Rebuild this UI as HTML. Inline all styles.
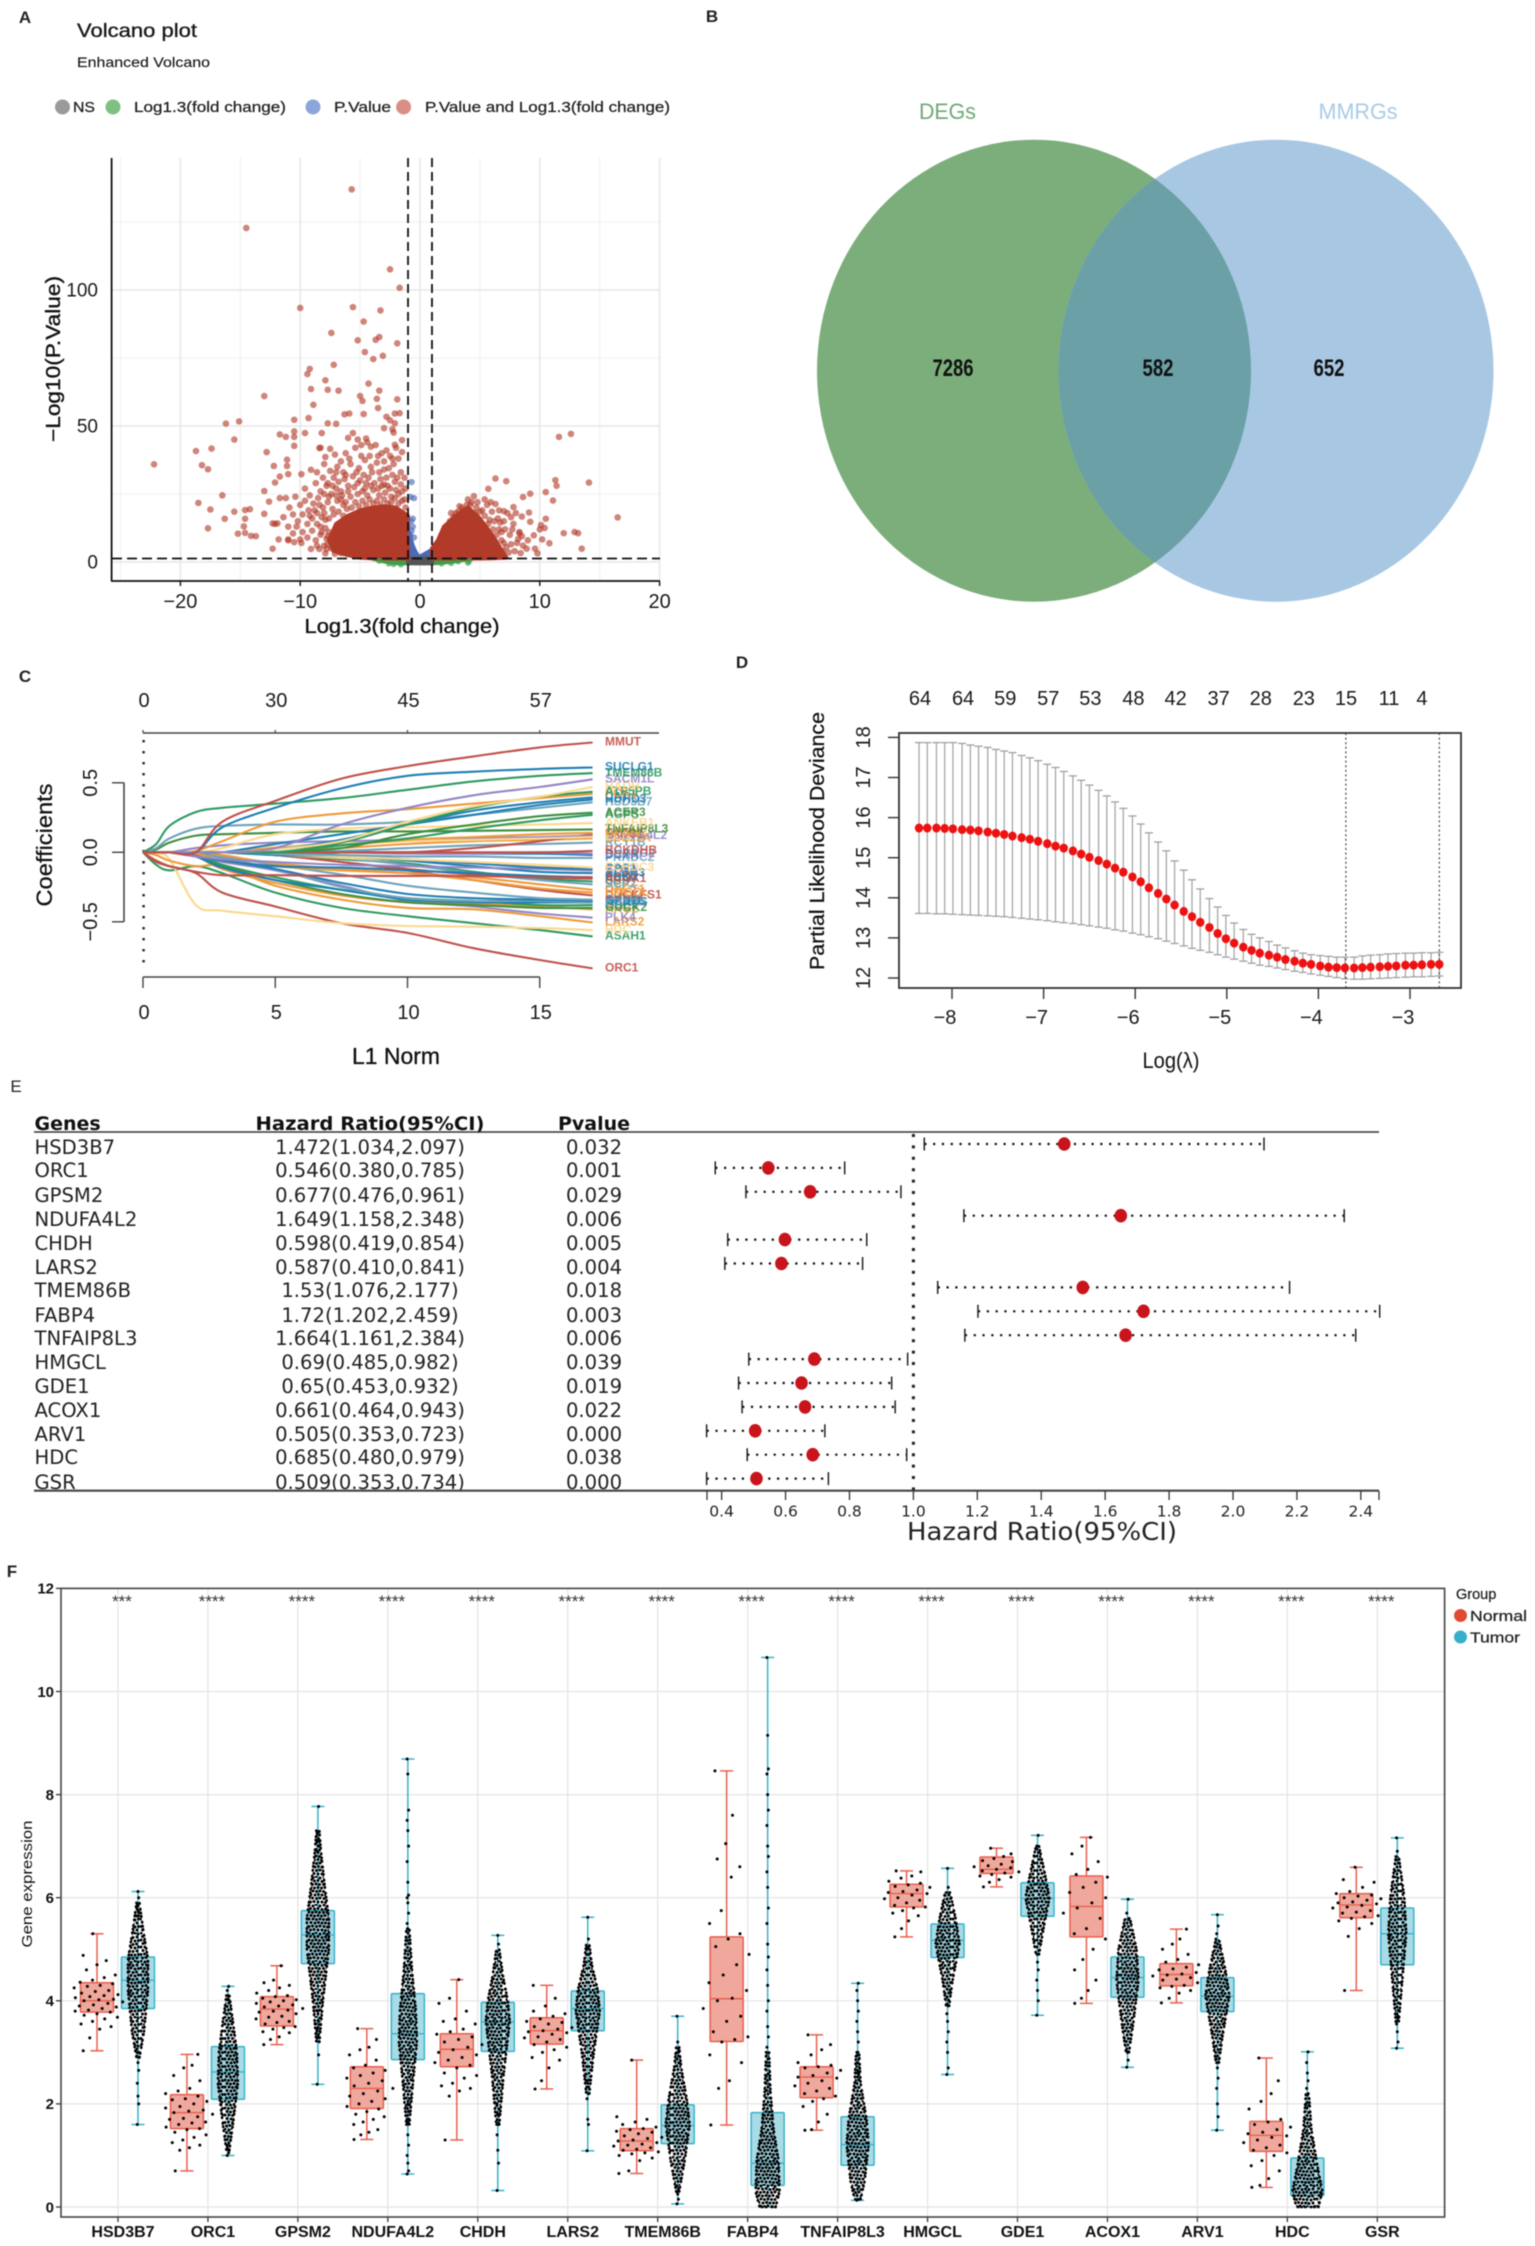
<!DOCTYPE html>
<html lang="en">
<head>
<meta charset="utf-8">
<title>Figure: volcano, Venn, LASSO, forest and box plots</title>
<style>
html,body{margin:0;padding:0;background:#fff;width:1535px;height:2246px;overflow:hidden}
svg{display:block;font-family:"Liberation Sans",sans-serif;filter:blur(.4px)}
.dj{font-family:"DejaVu Sans",sans-serif;font-size:19.6px;fill:#222}
.djb{font-family:"DejaVu Sans",sans-serif;font-size:19px;font-weight:bold;fill:#111}
.mid{text-anchor:middle}
</style>
</head>
<body>
<svg id="fig" xmlns="http://www.w3.org/2000/svg" width="1535" height="2246" viewBox="0 0 1535 2246">
<defs>
<pattern id="swarmDots" patternUnits="userSpaceOnUse" width="28" height="28">
<path d="M1 1h0M5 2h0M8 .5h0M12 2h0M16 1h0M19 2.5h0M23 1h0M26 2h0M2.5 4.5h0M6.5 5h0M10 4.5h0M14 5.5h0M17.5 5h0M21 5.5h0M25 5h0M1 8h0M4.5 8.5h0M8 8h0M11.5 8.5h0M15.5 8.5h0M19 8h0M23 9h0M26.5 8.5h0M3 11.5h0M6.5 12h0M10 11.5h0M13.5 12h0M17 11.5h0M21 12.5h0M24.5 12h0M1 15h0M5 15h0M8.5 15.5h0M12 15h0M15.5 15.5h0M19 15.5h0M23 16h0M26.5 15h0M3 18.5h0M7 19h0M10.5 18.5h0M14 19h0M17.5 19h0M21 19.5h0M25 19h0M1 22.5h0M4.5 22h0M8.5 22.5h0M12 22h0M16 22.5h0M19.5 23h0M23 23h0M26.5 22.5h0M2.5 26h0M6 25.5h0M10 26h0M14 26h0M17.5 26.5h0M21 26.5h0M25 26h0" fill="none" stroke="#000" stroke-width="3" stroke-linecap="round"/>
</pattern>
<clipPath id="leftVenn"><ellipse cx="1034" cy="370.7" rx="217" ry="231"/></clipPath>
</defs>
<rect width="1535" height="2246" fill="#fff"/>

<!-- Panel letters -->
<text x="25" y="23" font-size="17" font-weight="bold" text-anchor="middle" fill="#222">A</text>
<text x="712" y="22" font-size="17" font-weight="bold" text-anchor="middle" fill="#222">B</text>
<text x="25" y="682" font-size="17" font-weight="bold" text-anchor="middle" fill="#222">C</text>
<text x="742" y="668" font-size="17" font-weight="bold" text-anchor="middle" fill="#222">D</text>
<text x="16" y="1092" font-size="17" text-anchor="middle" fill="#222">E</text>
<text x="12" y="1577" font-size="17" font-weight="bold" text-anchor="middle" fill="#222">F</text>

<!-- Panel A text -->
<text x="77" y="37" font-size="19" textLength="120" lengthAdjust="spacingAndGlyphs" fill="#1a1a1a" stroke="#1a1a1a" stroke-width=".35">Volcano plot</text>
<text x="77" y="67" font-size="14" textLength="133" lengthAdjust="spacingAndGlyphs" fill="#1a1a1a" stroke="#1a1a1a" stroke-width=".15">Enhanced Volcano</text>
<g>
<circle cx="62.5" cy="107" r="7.5" fill="#888" opacity=".85"/>
<text x="73" y="112" font-size="14.5" textLength="22" lengthAdjust="spacingAndGlyphs" fill="#222" stroke="#222" stroke-width=".25">NS</text>
<circle cx="113" cy="107" r="7.5" fill="#7fbf7f"/>
<text x="134" y="112" font-size="14.5" textLength="152" lengthAdjust="spacingAndGlyphs" fill="#222" stroke="#222" stroke-width=".25">Log1.3(fold change)</text>
<circle cx="313" cy="107" r="7.5" fill="#8ca6da"/>
<text x="334" y="112" font-size="14.5" textLength="57" lengthAdjust="spacingAndGlyphs" fill="#222" stroke="#222" stroke-width=".25">P.Value</text>
<circle cx="403.6" cy="107" r="7.5" fill="#d98f85"/>
<text x="425" y="112" font-size="14.5" textLength="245" lengthAdjust="spacingAndGlyphs" fill="#222" stroke="#222" stroke-width=".25">P.Value and Log1.3(fold change)</text>
</g>
<text x="402" y="633" font-size="20" class="mid" textLength="195" lengthAdjust="spacingAndGlyphs" fill="#111" stroke="#111" stroke-width=".35">Log1.3(fold change)</text>
<text x="53" y="366" font-size="20" class="mid" textLength="166" lengthAdjust="spacingAndGlyphs" transform="rotate(-90 53 359)" fill="#111" stroke="#111" stroke-width=".35">−Log10(P.Value)</text>

<!-- Panel B: Venn -->
<g>
<ellipse cx="1034" cy="370.7" rx="217" ry="231" fill="#7bae7b"/>
<ellipse cx="1276" cy="370.7" rx="217.5" ry="231" fill="#a8c7e3"/>
<ellipse cx="1276" cy="370.7" rx="217.5" ry="231" fill="#6ba0a6" clip-path="url(#leftVenn)"/>
<text x="947.5" y="119" font-size="22" class="mid" textLength="57" lengthAdjust="spacingAndGlyphs" fill="#6fa874">DEGs</text>
<text x="1358" y="119" font-size="22" class="mid" textLength="79" lengthAdjust="spacingAndGlyphs" fill="#a9cbe6">MMRGs</text>
<text x="953" y="376" font-size="24" font-weight="bold" class="mid" textLength="41" lengthAdjust="spacingAndGlyphs" fill="#111">7286</text>
<text x="1158" y="376" font-size="24" font-weight="bold" class="mid" textLength="31" lengthAdjust="spacingAndGlyphs" fill="#111">582</text>
<text x="1329" y="376" font-size="24" font-weight="bold" class="mid" textLength="31" lengthAdjust="spacingAndGlyphs" fill="#111">652</text>
</g>

<!-- Panel C / D titles -->
<text x="396" y="1064" font-size="23" class="mid" textLength="88" lengthAdjust="spacingAndGlyphs" fill="#111" stroke="#111" stroke-width=".3">L1 Norm</text>
<text x="44" y="853" font-size="22" class="mid" textLength="123" lengthAdjust="spacingAndGlyphs" transform="rotate(-90 44 845)" fill="#111" stroke="#111" stroke-width=".25">Coefficients</text>
<text x="1171" y="1068" font-size="22" class="mid" textLength="57" lengthAdjust="spacingAndGlyphs" fill="#111">Log(λ)</text>
<text x="817" y="848" font-size="20" class="mid" textLength="258" lengthAdjust="spacingAndGlyphs" transform="rotate(-90 817 841)" fill="#111" stroke="#111" stroke-width=".25">Partial Likelihood Deviance</text>

<!-- Panel E table -->
<g>
<text class="djb" x="34.5" y="1130">Genes</text>
<text class="djb mid" x="370" y="1130" textLength="229" lengthAdjust="spacingAndGlyphs">Hazard Ratio(95%CI)</text>
<text class="djb mid" x="594" y="1130">Pvalue</text>

<text class="dj" x="34.5" y="1154">HSD3B7</text><text class="dj mid" x="370" y="1154">1.472(1.034,2.097)</text><text class="dj mid" x="594" y="1154">0.032</text>
<text class="dj" x="34.5" y="1177">ORC1</text><text class="dj mid" x="370" y="1177">0.546(0.380,0.785)</text><text class="dj mid" x="594" y="1177">0.001</text>
<text class="dj" x="34.5" y="1202">GPSM2</text><text class="dj mid" x="370" y="1202">0.677(0.476,0.961)</text><text class="dj mid" x="594" y="1202">0.029</text>
<text class="dj" x="34.5" y="1226">NDUFA4L2</text><text class="dj mid" x="370" y="1226">1.649(1.158,2.348)</text><text class="dj mid" x="594" y="1226">0.006</text>
<text class="dj" x="34.5" y="1250">CHDH</text><text class="dj mid" x="370" y="1250">0.598(0.419,0.854)</text><text class="dj mid" x="594" y="1250">0.005</text>
<text class="dj" x="34.5" y="1274">LARS2</text><text class="dj mid" x="370" y="1274">0.587(0.410,0.841)</text><text class="dj mid" x="594" y="1274">0.004</text>
<text class="dj" x="34.5" y="1297">TMEM86B</text><text class="dj mid" x="370" y="1297">1.53(1.076,2.177)</text><text class="dj mid" x="594" y="1297">0.018</text>
<text class="dj" x="34.5" y="1322">FABP4</text><text class="dj mid" x="370" y="1322">1.72(1.202,2.459)</text><text class="dj mid" x="594" y="1322">0.003</text>
<text class="dj" x="34.5" y="1345">TNFAIP8L3</text><text class="dj mid" x="370" y="1345">1.664(1.161,2.384)</text><text class="dj mid" x="594" y="1345">0.006</text>
<text class="dj" x="34.5" y="1369">HMGCL</text><text class="dj mid" x="370" y="1369">0.69(0.485,0.982)</text><text class="dj mid" x="594" y="1369">0.039</text>
<text class="dj" x="34.5" y="1393">GDE1</text><text class="dj mid" x="370" y="1393">0.65(0.453,0.932)</text><text class="dj mid" x="594" y="1393">0.019</text>
<text class="dj" x="34.5" y="1417">ACOX1</text><text class="dj mid" x="370" y="1417">0.661(0.464,0.943)</text><text class="dj mid" x="594" y="1417">0.022</text>
<text class="dj" x="34.5" y="1441">ARV1</text><text class="dj mid" x="370" y="1441">0.505(0.353,0.723)</text><text class="dj mid" x="594" y="1441">0.000</text>
<text class="dj" x="34.5" y="1464">HDC</text><text class="dj mid" x="370" y="1464">0.685(0.480,0.979)</text><text class="dj mid" x="594" y="1464">0.038</text>
<text class="dj" x="34.5" y="1489">GSR</text><text class="dj mid" x="370" y="1489">0.509(0.353,0.734)</text><text class="dj mid" x="594" y="1489">0.000</text>
<line x1="34" y1="1132" x2="1379" y2="1132" stroke="#333" stroke-width="1.6"/>
<line x1="34" y1="1490.7" x2="1379" y2="1490.7" stroke="#444" stroke-width="2.2"/>
</g>
<text x="1042" y="1540" font-family="DejaVu Sans" font-size="25" class="mid" textLength="270" lengthAdjust="spacingAndGlyphs" fill="#222">Hazard Ratio(95%CI)</text>

<!-- Panel F text -->
<text x="27" y="1889" font-size="15" class="mid" textLength="127" lengthAdjust="spacingAndGlyphs" transform="rotate(-90 27 1884)" fill="#111">Gene expression</text>
<g>
<text x="1456" y="1599" font-size="14.5" fill="#222" stroke="#222" stroke-width=".25">Group</text>
<circle cx="1460.5" cy="1615.5" r="6.5" fill="#e04a33"/>
<text x="1470" y="1621" font-size="15" textLength="57" lengthAdjust="spacingAndGlyphs" fill="#222" stroke="#222" stroke-width=".25">Normal</text>
<circle cx="1460.5" cy="1637" r="6.5" fill="#37afca"/>
<text x="1470" y="1642.5" font-size="15" textLength="50" lengthAdjust="spacingAndGlyphs" fill="#222" stroke="#222" stroke-width=".25">Tumor</text>
</g>

<g id="panelA"></g>
<g id="panelC"></g>
<g id="panelD"></g>
<g id="panelE"></g>
<g id="panelF"></g>
</svg>

<script>
/* ---------- Panel A data ---------- */
const volcanoXTicks = [-20,-10,0,10,20];
const volcanoYTicks = [0,50,100];
const volcanoXMinor = [-25,-15,-5,5,15];
const volcanoYMinor = [25,75,125];
const redPoints = [[-5.7,137],[-14.5,122.8],[-2.5,107.6],[-1.7,100.8],[-10,93.4],[-5.6,93.7],[-3.3,92.5],[-4.7,88.4],[-7.4,84.2],[-5.2,81.5],[-3.7,81.7],[-3.4,82.7],[-1.9,80.4],[-4.6,77.2],[-3.1,75.8],[-3.9,74.6],[-7.2,72.5],[-9.2,71],[-9.4,69.1],[-7.9,66.8],[-4.3,65.6],[-9.1,63.6],[-7.7,63.3],[-6.8,63],[-3.4,63],[-13,61],[-5,61],[-3.6,60],[-1.9,59.8],[-4.8,59.2],[-8.9,57.8],[-3.5,56.6],[-6.3,54.3],[-5.9,54.6],[-4.7,54.4],[-2.8,53.4],[-2.1,54.6],[-1.7,54.7],[-10.5,52.3],[-9.3,52.9],[-2.5,52.1],[-2.1,51],[-15.1,51.7],[-16.2,50.9],[-7.7,51],[-7,50.8],[-3,49.2],[-2.3,48.8],[-2.2,47.6],[-11.7,46.9],[-11.2,46],[-10.5,48],[-10.5,46],[-9.6,47.4],[-8.2,47.4],[-5.6,47.4],[-15.5,45],[-6,45.6],[-5.2,45],[-4.5,45.4],[-1.5,44.8],[-10.5,42.7],[-17.4,41.7],[-18.7,40.8],[-12.8,40.4],[-8.4,41.9],[-7.5,41.6],[-4.1,42.4],[-2.1,43.1],[-1.5,40.4],[-22.2,35.9],[-18.2,35.6],[-17.7,34.1],[-11.1,37.6],[-12.2,35.3],[-11.1,35.3],[-9.1,33.9],[-11,32.3],[-9.9,32.3],[-11.7,31.4],[-12.1,29.2],[-13,26.1],[-16.5,24.5],[-18.5,21.7],[-17.5,19.3],[-15.5,18.5],[-14.6,19.1],[-14.2,19.4],[-16.3,15.9],[-14.6,15.9],[-17.7,12.4],[-14.7,13.1],[-15.2,10.4],[-14.6,10.7],[-14.1,9.6],[-13.7,9.5],[-13,17.7],[-12.6,22.2],[-12.3,14.2],[-11.9,14.2],[-11.7,23.5],[-11.8,8.3],[-12.3,4.9],[-11,8.3],[-10,8.3],
[-8.3,42],[-7.9,38.6],[-7.1,39.5],[-6.6,37],[-6.2,40],[-5.4,42],[-4.9,43],[-4.4,44],[-3.7,43],[-3.2,40],[-2.8,41],[-2.5,39],[-2,42],[-1.8,38],[-6.9,35],[-6.4,33],[-5.8,36],[-5.1,34.5],[-4.6,37.5],[-4.1,35],[-3.6,36.5],[-3,34],[-2.6,34.5],[-2.2,36],[-1.6,33],[-1.3,31],[-8.6,33],[-8,36],[-7.5,33.5],[-7.2,31],[-6.8,29.5],[-6.3,30.5],[-5.6,31.5],[-5,30],[-4.3,31],[-3.8,29],[-3.3,30.5],[-2.7,28],[-2.1,29.5],[-1.6,28.5],[-1.2,27],[-9.6,27],[-9.2,24.5],[-8.7,29],[-8.3,26],[-7.8,28],[-7.4,25],[-7,27],[-6.5,24.5],[-6,26],[-5.5,27.5],[-4.8,26],[-4.4,24.5],[-3.9,26.5],[-3.4,24.5],[-2.9,25.5],[-2.4,24],[-1.8,25],[-1.3,23],[-10.4,24],[-10,21],[-9.6,22.5],[-9.3,19],[-8.9,21.5],[-8.5,23.5],[-8.1,20],[-7.7,22],[-7.3,19.5],[-6.9,22.5],[-6.4,21],[-11.2,23.5],[-10.9,20],[-10.6,17.5],[-10.2,15],[-9.8,17.5],[-9.4,14],[-9,16],[-8.6,18],[-8.3,13],[-7.9,15.5],[-7.6,11],[-12.1,14],[-11.4,16.5],[-11,13],[-10.6,10.5],[-10.3,13],[-9.8,11],[-9.4,9],[-9,11.5],[-8.7,8],[-8.3,10],[-8,6],[-7.8,8.5],[-11,8],[-10.5,7.3],[-9.9,7],[-9.1,4.8],[-8.4,4.8],[-7.9,3.2],
[-7.6,16],[-7.2,17.5],[-6.8,18.5],[-6.4,17],[-6.1,19.5],[-5.7,20],[-5.4,22],[-5.1,20.5],[-4.8,22.5],[-4.5,21],[-4.2,23],[-3.9,21.5],[-3.6,22.5],[-3.3,21],[-3,23],[-2.7,21.5],[-2.4,22],[-2.1,23.5],[-1.8,21.5],[-1.5,22.5],[-1.2,20],[-6.6,23],[-6.2,22],[-5.8,24],[-5.2,25],[-4.6,27],[-4.1,28],[-3.5,27],[-3,28.5],[-2.5,27],[-2,26.5],[-1.5,26],[-7,24.5],[-7.6,24],[-8,25],[-8.4,21],[-8.8,19],[-9.2,17],[-8.2,16.5],[-8,18],[-8.6,14],[-8.2,11],[-7.9,12.5],[-7.7,9.5],[-8.6,6],[-7.7,6.5],[-7.4,5],[-7.8,4.8],[-7.1,3],[-6.6,3.3],[-6.9,10],[-6.2,32],[-5.3,33],[-4.7,32],[-4,33],[-3.4,33],[-2.8,31],[-2.3,32],[-1.9,31],[-7.7,29],[-7,33],[-6,28],[-5.2,29],[-4.5,29],[-3.2,28],[-6.6,26],[-7.3,28],[-8.1,31],[-5.9,38],[-4.9,39],[-4.2,39],[-3.5,39],[-3,37],[-2.3,38],
[11.6,46],[12.6,47.1],[14.1,29.2],[16.5,16.4],[11.3,30.1],[11.4,28],[10.5,25.7],[11.1,22.6],[9.2,25.1],[8.6,23.9],[7.2,29.7],[6.3,30.7],[5.7,26.9],[4.5,24.2],[10.5,15.9],[10.1,13.6],[10.4,12.5],[10,12],[12,10.6],[12.9,11],[13.2,10.6],[13.5,4.9],[9.5,9.8],[10.2,8.3],[10.8,6.9],[9.6,4.9],[9.8,3.2],[8.9,4.9],[8.3,10.6],[9.1,18.2],[9.2,14.8],[8.5,16.7],[7.8,20.2],[7,18.7],[6.3,21.3],[5.6,21],[6,18.5],[6.5,16],[7,15],[7.3,18],[7.8,14],[8.3,11],[8.1,7],[7.5,10],[7,7],[6.6,12],[6.2,8],[5.7,14],[5.2,19],[4.8,22],[4.2,21],[3.6,19],[3,18],[6.9,4],[7.4,3.5],[8.4,3.3],[6.8,11],[8.6,6],[9,8],
[1.4,6],[1.8,10],[2.2,12.5],[2.5,15],[2.8,16.5],[3.2,18.5],[3.5,20],[3.9,21],[4.3,22],[4.7,20],[5,18.5],[5.4,17],[5.8,15.5],[6.1,12],[6.4,10],[6.8,8],[7.2,5.5],[7.6,6.5],[7.9,4],[5.3,13],[4.6,18],[4,23],[3.3,20.5],[2.6,18],[8.2,8.5],[8.5,9.5],[7.7,12],[6.7,14.5],[6.2,15],[5.9,22],[5.4,23],[7.1,12],[7.6,16.5],[8,18],[6.6,19]];
const bluePoints = [[-.7,29.4],[-.8,23.9],[-.5,23.5],[-.6,15.9],[-.75,15],[-.6,13],[-.7,11.5],[-.8,10],[-.5,9]];
const greenPoints = [[-3.4,.4],[-2.6,-.6],[-1.6,-.9],[3.2,.2],[4,-.3],[4.1,.3],[-2.2,-.8],[1.8,-.6],[2.6,-.4]];
const leftCoreFC = [-1,-2,-3,-4,-5,-6,-7,-7.6,-7.2,-6,-5,-4,-3,-2,-1];
const leftCoreP = [17,20,20.5,20,19,17,14,8,4,2.5,1.6,1.4,1.3,1.3,1.3];
const rightCoreFC = [1,1.5,2,3,4,5,6,7,7.2,6,5,4,3,2,1];
const rightCoreP = [5,8,13,17,20,16,10,3,1.6,1.4,1.3,1.3,1.3,1.3,1.3];
const blueCoreFC = [-1,-.8,-.6,-.4,-.2,0,.2,.4,.6,.8,1,1,-1];
const blueCoreP = [12,9,6,4,2.5,2,2.5,3,3.5,4,4.5,1.3,1.3];
const greenCoreFC = [-4,-3,-2,-1,1,2,3,4.5,3,2,1,-1,-2,-3];
const greenCoreP = [1.3,1.3,1.3,1.3,1.3,1.3,1.3,1.3,.3,-.2,-.5,-.5,-.4,.2];
const grayCoreFC = [-1,1,1,-1];
const grayCoreP = [1.3,1.3,-.4,-.4];
const foldCutoffs = [-1,1];
const pCutoff = 1.3;

/* ---------- Panel C data ---------- */
const lassoNormGrid = [0,.5,1,2,3,5,7.5,10,12.5,15,17];
const lassoXTicks = [0,5,10,15];
const lassoTopTicks = [0,5,10,15];
const lassoTopLabels = ['0','30','45','57'];
const lassoYTicks = [-.5,0,.5];
const lassoPalette = ['#c0504a','#1f7fb5','#2f9a60','#9486c6','#fbd88f','#ee9a3a','#6fa3bb','#3f8f3f'];
const lassoGenes = ['ORC1','ASAH1','HDC','LARS2','ARG2','PLK4','GUCK2','GDE1','ACADS','MAT2B','GPD1L','PHYH','DUCKFS1','HMGCL','OXCT1','SCD','SCP2','ACOX1','PDK4','CDK1','SCO2','ALDH3','AOX1','CPS1','ECHDC3','PRKDC2','DCXR','DUCEG2','BCKDHB','RCY1B','SLC25A','FADS1','NDUFA4L2','ECI1','GPSM2','TNFAIP8L3','ANKEB1','AGPS','ACER3','HSD3B7','HDHD3','CAT','PCK1','ATP5PB','HADH','SACM1L','TMEM86B','SUCLG1','MMUT'];
const lassoColorIndex = [0,2,4,5,5,3,7,2,1,6,1,6,0,5,5,2,6,0,1,4,0,1,3,1,4,6,1,3,0,6,5,0,3,4,5,7,4,2,7,6,1,1,5,2,4,3,2,1,0];
const coefORC1 = [0,-.06,-.1,-.15,-.29,-.39,-.51,-.58,-.69,-.775,-.835];
const coefASAH1 = [0,-.09,-.13,-.1,-.15,-.29,-.4,-.46,-.51,-.56,-.605];
const coefHDC = [0,-.01,-.05,-.38,-.42,-.46,-.51,-.53,-.535,-.545,-.56];
const coefLARS2 = [0,-.02,-.06,-.1,-.1,-.24,-.34,-.4,-.41,-.46,-.505];
const coefARG2 = [0,0,0,-.03,-.12,-.22,-.31,-.36,-.37,-.39,-.41];
const coefPLK4 = [0,0,0,-.03,-.07,-.13,-.24,-.35,-.39,-.44,-.47];
const coefGUCK2 = [0,0,0,-.03,-.1,-.2,-.3,-.36,-.38,-.4,-.4];
const coefGDE1 = [0,0,0,-.02,-.09,-.18,-.27,-.33,-.35,-.38,-.38];
const coefACADS = [0,0,0,-.03,-.11,-.2,-.27,-.34,-.36,-.36,-.36];
const coefMAT2B = [0,0,0,-.01,-.04,-.12,-.25,-.33,-.35,-.35,-.36];
const coefGPD1L = [0,0,0,-.02,-.06,-.12,-.22,-.3,-.33,-.34,-.35];
const coefPHYH = [0,0,0,0,-.03,-.09,-.16,-.24,-.29,-.33,-.34];
const coefDUCKFS1 = [0,0,0,0,0,-.02,-.07,-.13,-.2,-.27,-.31];
const coefHMGCL = [0,0,0,0,-.02,-.08,-.12,-.15,-.2,-.26,-.29];
const coefOXCT1 = [0,0,0,-.01,-.06,-.1,-.13,-.15,-.18,-.23,-.27];
const coefSCD = [0,0,0,0,0,-.02,-.05,-.08,-.14,-.19,-.21];
const coefSCP2 = [0,0,0,0,0,-.01,-.04,-.09,-.15,-.2,-.23];
const coefACOX1 = [0,0,0,0,0,-.02,-.07,-.12,-.16,-.18,-.19];
const coefPDK4 = [0,0,0,-.03,-.06,-.1,-.11,-.13,-.15,-.17,-.18];
const coefCDK1 = [0,0,0,0,0,-.02,-.04,-.06,-.08,-.1,-.13];
const coefSCO2 = [0,-.07,-.1,-.14,-.165,-.165,-.17,-.17,-.17,-.18,-.18];
const coefALDH3 = [0,0,0,0,0,-.02,-.03,-.06,-.1,-.14,-.15];
const coefAOX1 = [0,0,0,-.03,-.05,-.07,-.09,-.1,-.11,-.12,-.13];
const coefCPS1 = [0,0,0,0,0,0,-.02,-.05,-.08,-.11,-.12];
const coefECHDC3 = [0,0,0,0,0,-.01,-.03,-.05,-.07,-.09,-.11];
const coefPRKDC2 = [0,0,0,0,0,-.01,-.02,-.03,-.03,-.04,-.04];
const coefDCXR = [0,0,0,0,0,0,0,0,-.01,-.01,-.02];
const coefDUCEG2 = [0,0,0,0,0,0,0,-.01,-.01,0,-.01];
const coefBCKDHB = [0,0,0,0,0,0,0,0,0,0,.01];
const coefRCY1B = [0,0,0,0,0,0,.01,.03,.05,.06,.07];
const coefSLC25A = [0,0,0,0,0,0,.03,.06,.08,.09,.1];
const coefFADS1 = [0,0,0,0,0,0,0,0,.03,.08,.13];
const coefNDUFA4L2 = [0,0,0,.03,.05,.07,.08,.09,.1,.11,.12];
const coefECI1 = [0,0,0,0,0,.04,.06,.08,.09,.1,.11];
const coefGPSM2 = [0,0,0,0,0,.03,.05,.09,.11,.13,.14];
const coefTNFAIP8L3 = [0,.02,.07,.12,.13,.14,.15,.15,.155,.16,.165];
const coefANKEB1 = [0,0,0,0,.03,.13,.17,.18,.19,.2,.21];
const coefAGPS = [0,0,0,0,0,0,.05,.1,.17,.23,.27];
const coefACER3 = [0,0,0,0,0,0,.03,.13,.2,.26,.285];
const coefHSD3B7 = [0,.03,.1,.17,.19,.2,.2,.22,.27,.32,.36];
const coefHDHD3 = [0,0,0,0,0,.06,.13,.2,.27,.34,.38];
const coefCAT = [0,0,0,0,0,.02,.09,.2,.3,.36,.395];
const coefPCK1 = [0,0,0,.01,.08,.22,.28,.31,.35,.39,.42];
const coefATP5PB = [0,0,0,0,0,0,.07,.2,.32,.4,.435];
const coefHADH = [0,0,0,0,0,.02,.08,.22,.33,.4,.47];
const coefSACM1L = [0,0,0,0,0,.03,.2,.32,.41,.47,.525];
const coefTMEM86B = [0,.06,.19,.29,.32,.35,.39,.45,.51,.55,.57];
const coefSUCLG1 = [0,0,0,0,.18,.32,.46,.55,.58,.6,.61];
const coefMMUT = [0,0,0,0,.22,.37,.53,.62,.69,.755,.79];
const lassoCoefs = [coefORC1,coefASAH1,coefHDC,coefLARS2,coefARG2,coefPLK4,coefGUCK2,coefGDE1,coefACADS,coefMAT2B,coefGPD1L,coefPHYH,coefDUCKFS1,coefHMGCL,coefOXCT1,coefSCD,coefSCP2,coefACOX1,coefPDK4,coefCDK1,coefSCO2,coefALDH3,coefAOX1,coefCPS1,coefECHDC3,coefPRKDC2,coefDCXR,coefDUCEG2,coefBCKDHB,coefRCY1B,coefSLC25A,coefFADS1,coefNDUFA4L2,coefECI1,coefGPSM2,coefTNFAIP8L3,coefANKEB1,coefAGPS,coefACER3,coefHSD3B7,coefHDHD3,coefCAT,coefPCK1,coefATP5PB,coefHADH,coefSACM1L,coefTMEM86B,coefSUCLG1,coefMMUT];

/* ---------- Panel D data ---------- */
const cvLambda = [-8.36,-8.27,-8.17,-8.08,-7.99,-7.89,-7.80,-7.71,-7.61,-7.52,-7.43,-7.34,-7.24,-7.15,-7.06,-6.96,-6.87,-6.78,-6.68,-6.59,-6.50,-6.40,-6.31,-6.22,-6.13,-6.03,-5.94,-5.85,-5.75,-5.66,-5.57,-5.47,-5.38,-5.29,-5.19,-5.10,-5.01,-4.92,-4.82,-4.73,-4.64,-4.54,-4.45,-4.36,-4.26,-4.17,-4.08,-3.98,-3.89,-3.80,-3.71,-3.61,-3.52,-3.43,-3.33,-3.24,-3.15,-3.05,-2.96,-2.87,-2.77,-2.68];
const cvMean = [15.74,15.74,15.74,15.73,15.72,15.70,15.69,15.67,15.64,15.61,15.58,15.54,15.50,15.46,15.41,15.35,15.29,15.24,15.17,15.09,15.01,14.93,14.84,14.74,14.64,14.52,14.40,14.25,14.11,13.97,13.82,13.66,13.53,13.39,13.26,13.11,12.98,12.87,12.77,12.69,12.62,12.57,12.52,12.46,12.42,12.37,12.34,12.30,12.27,12.26,12.25,12.25,12.26,12.27,12.28,12.29,12.30,12.32,12.32,12.33,12.34,12.34];
const cvUpper = [17.87,17.87,17.87,17.87,17.87,17.85,17.81,17.78,17.75,17.70,17.66,17.62,17.55,17.49,17.42,17.33,17.25,17.15,17.04,16.93,16.81,16.68,16.54,16.39,16.23,16.04,15.84,15.62,15.39,15.17,14.92,14.69,14.45,14.22,13.98,13.77,13.56,13.37,13.21,13.09,13.00,12.91,12.82,12.75,12.68,12.62,12.58,12.56,12.54,12.52,12.52,12.52,12.55,12.57,12.58,12.60,12.61,12.62,12.62,12.63,12.63,12.64];
const cvLower = [13.61,13.61,13.60,13.60,13.59,13.58,13.57,13.56,13.55,13.54,13.53,13.51,13.49,13.47,13.45,13.43,13.40,13.38,13.36,13.33,13.30,13.27,13.24,13.20,13.17,13.12,13.08,13.03,12.98,12.92,12.86,12.80,12.74,12.69,12.64,12.58,12.52,12.47,12.42,12.37,12.32,12.29,12.25,12.21,12.17,12.14,12.10,12.07,12.04,12.01,11.98,11.97,11.97,11.98,11.99,12.00,12.01,12.02,12.03,12.03,12.04,12.05];
const cvXTicks = [-8,-7,-6,-5,-4,-3];
const cvYTicks = [12,13,14,15,16,17,18];
const cvTopAt = [-8.36,-7.89,-7.43,-6.96,-6.50,-6.03,-5.57,-5.10,-4.64,-4.17,-3.71,-3.24,-2.88];
const cvTopLabels = ['64','64','59','57','53','48','42','37','28','23','15','11','4'];
const cvGuides = [-3.7,-2.68];

/* ---------- Panel E data ---------- */
const forestHR = [1.472,.546,.677,1.649,.598,.587,1.53,1.72,1.664,.69,.65,.661,.505,.685,.509];
const forestLow = [1.034,.38,.476,1.158,.419,.41,1.076,1.202,1.161,.485,.453,.464,.353,.48,.353];
const forestHigh = [2.097,.785,.961,2.348,.854,.841,2.177,2.459,2.384,.982,.932,.943,.723,.979,.734];
const forestTicks = [.4,.6,.8,1,1.2,1.4,1.6,1.8,2,2.2,2.4];
const forestTickLabels = ['0.4','0.6','0.8','1.0','1.2','1.4','1.6','1.8','2.0','2.2','2.4'];

/* ---------- Panel F data ---------- */
const boxGenes = ['HSD3B7','ORC1','GPSM2','NDUFA4L2','CHDH','LARS2','TMEM86B','FABP4','TNFAIP8L3','HMGCL','GDE1','ACOX1','ARV1','HDC','GSR'];
const boxStars = ['***','****','****','****','****','****','****','****','****','****','****','****','****','****','****'];
const boxYTicks = [0,2,4,6,8,10,12];
/* whisker-low, q1, median, q3, whisker-high */
const normalStats = [[3.03,3.78,4,4.35,5.3],[.7,1.52,1.83,2.18,2.96],[3.15,3.51,3.84,4.08,4.68],[1.31,1.91,2.3,2.72,3.46],[1.3,2.72,3.06,3.36,4.41],[2.29,3.16,3.42,3.67,4.3],[.65,1.09,1.28,1.52,2.85],[1.59,3.21,4.04,5.24,8.46],[1.49,2.12,2.52,2.72,3.34],[5.24,5.82,6.08,6.26,6.52],[6.21,6.47,6.55,6.79,6.96],[3.95,5.24,5.83,6.42,7.17],[3.96,4.29,4.51,4.72,5.39],[.38,1.08,1.39,1.66,2.89],[4.2,5.61,5.86,6.08,6.59]];
const tumorStats = [[1.6,3.85,4.4,4.85,6.12],[1,2.09,2.62,3.11,4.28],[2.38,4.72,5.28,5.75,7.77],[.64,2.86,3.36,4.14,8.69],[.32,3.02,3.59,3.97,5.27],[1.09,3.42,3.85,4.19,5.62],[.06,1.23,1.58,1.98,3.7],[0,.42,.85,1.83,10.66],[.13,.81,1.21,1.75,4.34],[2.57,4.84,5.17,5.49,6.57],[3.72,5.64,5.99,6.29,7.21],[2.71,4.07,4.45,4.85,5.97],[1.49,3.79,4.09,4.45,5.67],[0,.22,.49,.95,3.01],[3.08,4.7,5.3,5.8,7.16]];
/* [expression, relative swarm density] */
const tumorDensity = [
[[2.9,1.5],[3.4,6],[4.2,10],[4.8,10],[5.4,5],[5.9,1.5]],
[[1.1,1.5],[1.6,5],[2.4,10],[3,9],[3.6,5],[4.1,1.5]],
[[3.2,1.5],[4,5],[5,11],[5.6,11],[6.2,7],[6.9,3],[7.3,1.5]],
[[1.6,1.5],[2.4,5],[3.2,9],[3.8,8],[4.6,4],[5.4,1.5]],
[[1.6,1.5],[2.6,6],[3.6,12],[4,10],[4.5,5],[5,1.5]],
[[2.2,1.5],[3,6],[3.8,12],[4.2,10],[4.7,4],[5.1,1.5]],
[[.3,1.5],[.9,7],[1.6,12],[2.1,9],[2.7,3.5],[3.1,1.5]],
[[0,8],[.3,12],[.9,11],[1.5,6],[2.2,3],[3,1.5]],
[[.15,3],[.5,7],[1.2,11],[1.7,9],[2.4,3],[3,1.5]],
[[3.9,1.5],[4.4,5],[5.1,12],[5.6,8],[6.1,2.5]],
[[4.9,1.5],[5.4,6],[6,12],[6.5,7],[7,1.5]],
[[3,1.5],[3.6,6],[4.4,11],[5,9],[5.6,2.5]],
[[2.8,1.5],[3.3,5],[4.1,12],[4.6,8],[5.2,1.5]],
[[0,11],[.3,15],[.8,10],[1.5,4],[2.2,1.5]],
[[3.6,1.5],[4.4,5],[5.3,9],[6,7],[6.8,1.5]]];
const tumorTails = [
[1.6,2,2.15,2.4,2.65,2.8,3,5.65,5.75,5.85,6,6.12],
[1,1.05,1.12,1.2,4.02,4.1,4.2,4.28],
[2.38,2.95,3.3,3.45,3.6,3.8,6.9,7,7.1,7.25,7.77],
[.64,.7,.85,1,1.2,1.4,1.7,1.85,2,5.5,5.7,5.9,6,6.05,6.3,6.7,7,7.3,7.5,7.7,8.4,8.69],
[.32,.85,1.1,1.4,1.6,1.8,2,5.1,5.27],
[1.09,1.6,1.7,2.1,2.2,2.4,5,5.2,5.62],
[.06,.15,.25,.3,3,3.2,3.7],
[3.1,3.3,3.5,3.8,4,4.3,4.6,4.85,5.1,5.5,5.8,6.2,6.5,6.8,7,7.4,7.7,8,8.4,8.5,9.15,10.66],
[.13,2.6,2.8,3,3.2,3.4,3.6,3.8,4,4.2,4.34],
[2.57,2.7,3,3.2,3.4,3.6,3.75,6.2,6.57],
[3.72,4,4.2,4.4,4.6,4.75,7,7.21],
[2.71,2.85,3,5.7,5.97],
[1.49,1.75,2,2.3,2.5,2.7,5.3,5.45,5.67],
[2.3,2.45,2.6,2.8,3.01],
[3.08,3.2,3.4,3.55,3.7,6.9,7.16]];
const normalDots = [
[3.03,3.28,3.45,3.5,3.55,3.6,3.65,3.68,3.72,3.75,3.78,3.8,3.82,3.85,3.88,3.9,3.92,3.95,3.98,4,4.02,4.03,4.06,4.08,4.1,4.12,4.15,4.18,4.2,4.25,4.28,4.3,4.33,4.36,4.4,4.45,4.5,4.6,4.7,4.78,4.88,5.3],
[.7,1.1,1.15,1.2,1.25,1.3,1.35,1.4,1.45,1.5,1.52,1.55,1.6,1.63,1.65,1.7,1.72,1.75,1.8,1.83,1.86,1.88,1.92,1.95,2,2.05,2.08,2.1,2.15,2.2,2.25,2.3,2.45,2.55,2.7,2.75,2.96],
[3.15,3.25,3.3,3.38,3.4,3.45,3.48,3.5,3.55,3.58,3.6,3.65,3.68,3.7,3.75,3.78,3.8,3.82,3.85,3.88,3.9,3.92,3.95,3.98,4,4.02,4.05,4.08,4.1,4.15,4.2,4.25,4.3,4.35,4.4,4.68],
[1.31,1.4,1.45,1.5,1.6,1.65,1.7,1.75,1.8,1.85,1.9,1.95,2,2.05,2.1,2.15,2.2,2.25,2.3,2.35,2.4,2.45,2.5,2.55,2.6,2.65,2.7,2.75,2.85,2.95,3.05,3.1,3.25,3.46],
[1.3,2.15,2.25,2.3,2.35,2.4,2.5,2.55,2.6,2.7,2.75,2.8,2.85,2.9,2.95,3,3.05,3.1,3.15,3.2,3.25,3.3,3.35,3.4,3.45,3.55,3.6,3.65,3.8,3.95,4.05,4.41],
[2.29,2.45,2.7,2.85,2.9,3,3.05,3.1,3.15,3.2,3.25,3.28,3.3,3.35,3.38,3.4,3.42,3.45,3.48,3.5,3.55,3.58,3.6,3.65,3.7,3.75,3.8,3.9,4.05,4.3],
[.65,.7,.9,.95,1,1.03,1.05,1.07,1.1,1.12,1.15,1.18,1.2,1.22,1.25,1.28,1.3,1.33,1.35,1.38,1.42,1.45,1.47,1.5,1.52,1.55,1.6,1.65,1.7,1.75,2.85],
[1.59,2.3,2.45,2.8,2.95,3.2,3.25,3.3,3.4,3.6,3.7,3.85,4,4.05,4.2,4.35,4.5,4.7,4.9,5.05,5.2,5.3,5.5,5.75,6.4,6.6,6.75,7.05,7.6,8.46],
[1.49,1.5,1.65,1.8,1.95,2.05,2.1,2.15,2.2,2.25,2.3,2.35,2.4,2.45,2.5,2.52,2.55,2.6,2.65,2.7,2.72,2.75,2.8,2.95,3.05,3.15,3.34],
[5.24,5.4,5.55,5.65,5.7,5.75,5.8,5.82,5.85,5.9,5.95,5.98,6,6.05,6.08,6.1,6.12,6.15,6.2,6.22,6.25,6.28,6.32,6.38,6.42,6.5,6.52],
[6.21,6.3,6.35,6.4,6.42,6.45,6.48,6.5,6.52,6.55,6.58,6.6,6.62,6.65,6.7,6.72,6.76,6.8,6.85,6.96],
[3.95,4.05,4.2,4.4,4.6,4.8,5,5.2,5.3,5.4,5.6,5.7,5.8,5.9,6,6.1,6.2,6.3,6.4,6.45,6.55,6.7,6.85,7,7.17],
[3.96,4.05,4.15,4.2,4.25,4.28,4.3,4.35,4.4,4.42,4.45,4.48,4.5,4.52,4.55,4.6,4.62,4.65,4.7,4.75,4.8,4.9,5,5.1,5.2,5.39],
[.38,.42,.55,.7,.8,.9,1,1.05,1.1,1.15,1.2,1.25,1.3,1.35,1.38,1.42,1.45,1.5,1.55,1.6,1.65,1.7,1.9,2.05,2.2,2.45,2.89],
[4.2,5.25,5.4,5.5,5.55,5.6,5.63,5.65,5.7,5.72,5.75,5.8,5.82,5.85,5.88,5.9,5.92,5.95,5.98,6,6.03,6.05,6.08,6.12,6.2,6.3,6.35,6.59]];

/* ---------- helpers ---------- */
const NS = 'http://www.w3.org/2000/svg';
function make(parent, tag, attrs) {
  const el = document.createElementNS(NS, tag);
  for (const k in attrs) el.setAttribute(k, attrs[k]);
  parent.appendChild(el);
  return el;
}
function seg(parent, x1, y1, x2, y2, stroke, w, dash) {
  const a = {x1:x1, y1:y1, x2:x2, y2:y2, stroke:stroke, 'stroke-width':w};
  if (dash) a['stroke-dasharray'] = dash;
  return make(parent, 'line', a);
}
function label(parent, x, y, str, size, extra) {
  const a = {x:x, y:y + size * .35, 'font-size':size, 'text-anchor':'middle', fill:'#1a1a1a'};
  for (const k in extra) a[k] = extra[k];
  const t = make(parent, 'text', a);
  t.textContent = str;
  return t;
}
function smoothPath(pts) {
  let d = 'M' + pts[0][0].toFixed(1) + ' ' + pts[0][1].toFixed(1);
  for (let i = 0; i < pts.length - 1; i++) {
    const p0 = pts[Math.max(0, i - 1)], p1 = pts[i], p2 = pts[i + 1], p3 = pts[Math.min(pts.length - 1, i + 2)];
    d += 'C' + (p1[0] + (p2[0] - p0[0]) / 6).toFixed(1) + ' ' + (p1[1] + (p2[1] - p0[1]) / 6).toFixed(1) + ' ' +
         (p2[0] - (p3[0] - p1[0]) / 6).toFixed(1) + ' ' + (p2[1] - (p3[1] - p1[1]) / 6).toFixed(1) + ' ' +
         p2[0].toFixed(1) + ' ' + p2[1].toFixed(1);
  }
  return d;
}

/* ---------- Panel A ---------- */
(function () {
  const g = document.getElementById('panelA');
  const X = v => 420 + 11.98 * v, Y = v => 562 - 2.72 * v;
  volcanoXMinor.forEach(v => {
    const el = seg(g, X(v), 158, X(v), 581, '#efefef', 1);
    
    
  });
  volcanoYMinor.forEach(v => {
    const el = seg(g, 112, Y(v), 660, Y(v), '#efefef', 1);
    
    
  });
  volcanoXTicks.forEach(v => {
    const el = seg(g, X(v), 158, X(v), 581, '#e8e8e8', 1.6);
    
    
  });
  volcanoYTicks.forEach(v => {
    const el = seg(g, 112, Y(v), 660, Y(v), '#e8e8e8', 1.6);
    
    
  });
  function core(xs, ys, color, name) {
    const pts = xs.map((x, i) => X(x).toFixed(1) + ',' + Y(ys[i]).toFixed(1)).join(' ');
    const el = make(g, 'polygon', {points:pts, fill:color, stroke:color, 'stroke-width':4, 'stroke-linejoin':'round'});
    
    
  }
  core(greenCoreFC, greenCoreP, '#3f9e4a', 'volcano-fold-change-only-cloud');
  core(blueCoreFC, blueCoreP, '#4a6bb8', 'volcano-pvalue-only-cloud');
  core(grayCoreFC, grayCoreP, '#555555', 'volcano-not-significant-cloud');
  core(leftCoreFC, leftCoreP, '#b23a28', 'volcano-down-regulated-cloud');
  core(rightCoreFC, rightCoreP, '#b23a28', 'volcano-up-regulated-cloud');
  greenPoints.forEach(p => {
    const el = make(g, 'circle', {cx:X(p[0]), cy:Y(p[1]), r:3, fill:'#3f9e4a', 'fill-opacity':.7});
    
    
  });
  bluePoints.forEach(p => {
    const el = make(g, 'circle', {cx:X(p[0]), cy:Y(p[1]), r:3.2, fill:'#4a6bb8', 'fill-opacity':.65});
    
    
  });
  redPoints.forEach(p => {
    const el = make(g, 'circle', {cx:X(p[0]), cy:Y(p[1]), r:3.3, fill:'#b23a28', 'fill-opacity':.62});
    
    
  });
  foldCutoffs.forEach(v => {
    const el = seg(g, X(v), 158, X(v), 581, '#111', 1.8, '9 5');
    
    
  });
  const pl = seg(g, 112, Y(pCutoff), 660, Y(pCutoff), '#111', 1.8, '10 5');
  
  
  const ax = seg(g, 111, 581, 660, 581, '#111', 1.8);
  
  
  const ay = seg(g, 111.6, 158, 111.6, 581, '#111', 1.8);
  
  
  volcanoXTicks.forEach(v => {
    const t = seg(g, X(v), 581, X(v), 586, '#111', 1.4);
    
    
    const l = label(g, X(v), 601, String(v).replace('-', '−'), 20);
    
    
  });
  volcanoYTicks.forEach(v => {
    const l = label(g, 98, Y(v), String(v), 19, {'text-anchor':'end'});
    
    
  });
})();

/* ---------- Panel C ---------- */
(function () {
  const g = document.getElementById('panelC');
  const X = v => 143 + 26.45 * v, Y = v => 852.3 - 139 * v;
  const dotted = seg(g, X(0) + .6, 740, X(0) + .6, 970, '#222', 2.4, '2.4 8.6');
  
  
  lassoCoefs.forEach((c, i) => {
    const pts = c.map((v, k) => [X(lassoNormGrid[k]), Y(v)]);
    const color = lassoPalette[lassoColorIndex[i]];
    const p = make(g, 'path', {d:smoothPath(pts), fill:'none', stroke:color, 'stroke-width':2.1});
    
    
  });
  lassoCoefs.forEach((c, i) => {
    const color = lassoPalette[lassoColorIndex[i]];
    const t = label(g, 605, Y(c[c.length - 1]) - 1, lassoGenes[i], 12, {'text-anchor':'start', fill:color, 'font-weight':'bold', opacity:.9});
    
    
  });
  const top = seg(g, 143, 733, 659, 733, '#444', 1.4);
  
  
  lassoTopTicks.forEach((v, i) => {
    const tk = seg(g, X(v), 733, X(v), 730, '#444', 1.2);
    
    
    const l = label(g, X(v) + 1, 700, lassoTopLabels[i], 20);
    
    
  });
  const bottom = seg(g, X(0), 977, X(15), 977, '#444', 1.6);
  
  
  lassoXTicks.forEach(v => {
    const tk = seg(g, X(v), 977, X(v), 988, '#444', 1.4);
    
    
    const l = label(g, X(v) + 1, 1012, String(v), 20);
    
    
  });
  const left = seg(g, 124, Y(.5), 124, Y(-.5), '#444', 1.6);
  
  
  lassoYTicks.forEach(v => {
    const tk = seg(g, 112, Y(v), 124, Y(v), '#444', 1.4);
    
    
    const ty = Y(v);
    const str = (v < 0 ? '−' : '') + Math.abs(v).toFixed(1);
    const l = label(g, 90, ty, str, 20, {transform:'rotate(-90 90 ' + ty + ')', x:90, y:ty + 7});
    
    
  });
})();

/* ---------- Panel D ---------- */
(function () {
  const g = document.getElementById('panelD');
  const X = v => 1410 + 91.6 * (v + 3), Y = v => 978 - 40.1 * (v - 12);
  const box = make(g, 'rect', {x:899, y:733, width:562, height:255, fill:'none', stroke:'#333', 'stroke-width':1.8});
  
  
  cvLambda.forEach((v, i) => {
    const x = X(v);
    const e = seg(g, x, Y(cvUpper[i]), x, Y(cvLower[i]), '#a0a0a0', 1.2);
    
    
    const u = seg(g, x - 4, Y(cvUpper[i]), x + 4, Y(cvUpper[i]), '#a0a0a0', 1.3);
    
    
    const d = seg(g, x - 4, Y(cvLower[i]), x + 4, Y(cvLower[i]), '#a0a0a0', 1.3);
    
    
  });
  cvGuides.forEach(v => {
    const el = seg(g, X(v), 733, X(v), 988, '#333', 1.1, '2 2.6');
    
    
  });
  cvLambda.forEach((v, i) => {
    const c = make(g, 'ellipse', {cx:X(v), cy:Y(cvMean[i]), rx:4.2, ry:4.5, fill:'#ee1111'});
    
    
  });
  cvTopAt.forEach((v, i) => {
    const l = label(g, X(v) + 1, 698, cvTopLabels[i], 20);
    
    
  });
  cvXTicks.forEach(v => {
    const tk = seg(g, X(v), 988, X(v), 999, '#333', 1.4);
    
    
    const l = label(g, X(v) - 7, 1017, '−' + Math.abs(v), 20);
    
    
  });
  cvYTicks.forEach(v => {
    const ty = Y(v);
    const tk = seg(g, 888, ty, 899, ty, '#333', 1.4);
    
    
    const l = label(g, 863, ty, String(v), 20, {transform:'rotate(-90 863 ' + ty + ')', x:863, y:ty + 7});
    
    
  });
})();

/* ---------- Panel E ---------- */
(function () {
  const g = document.getElementById('panelE');
  const X = v => 913.4 + 319.6 * (v - 1), rowY = i => 1144 + i * 23.9;
  const ref = seg(g, X(1), 1134, X(1), 1490, '#222', 3, '3 8.4');
  
  
  forestHR.forEach((v, i) => {
    const y = rowY(i);
    const ci = seg(g, X(forestLow[i]), y, X(forestHigh[i]), y, '#111', 2.2, '2.2 6.6');
    
    
    const lo = seg(g, X(forestLow[i]), y - 6.5, X(forestLow[i]), y + 6.5, '#222', 1.5);
    
    
    const hi = seg(g, X(forestHigh[i]), y - 6.5, X(forestHigh[i]), y + 6.5, '#222', 1.5);
    
    
    const c = make(g, 'ellipse', {cx:X(v), cy:y, rx:6.3, ry:6.8, fill:'#c8141a'});
    
    
  });
  const end1 = seg(g, 707, 1491, 707, 1500, '#333', 1.3);
  
  
  const end2 = seg(g, 1379, 1491, 1379, 1500, '#333', 1.3);
  
  
  forestTicks.forEach((v, i) => {
    const tk = seg(g, X(v), 1491, X(v), 1500, '#333', 1.3);
    
    
    const l = label(g, X(v), 1511, forestTickLabels[i], 15.5, {'font-family':'DejaVu Sans', fill:'#222'});
    
    
  });
})();

/* ---------- Panel F ---------- */
(function () {
  const g = document.getElementById('panelF');
  const X = i => 118 + 89.95 * i, Y = v => 2207 - 51.55 * v;
  const NORMAL = -21, TUMOR = 20, HALF = 16.5, CAP = 6.5;
  boxYTicks.forEach(v => {
    if (v < 12) {
      const el = seg(g, 61, Y(v), 1444, Y(v), '#e4e4e4', 1.2);
      
      
    }
    const tk = seg(g, 56, Y(v), 61, Y(v), '#333', 1.3);
    
    
    const l = label(g, 54, Y(v), String(v), 15, {'text-anchor':'end', fill:'#111', 'font-weight':'bold'});
    
    
  });
  boxGenes.forEach((name, i) => {
    const x = X(i);
    const gr = seg(g, x, 1588, x, 2217, '#e4e4e4', 1.2);
    
    
    const tk = seg(g, x, 2217, x, 2222, '#333', 1.3);
    
    
    const l = label(g, x + 5, 2231.5, name, 16, {fill:'#111', 'font-weight':'bold'});
    
    
    const st = make(g, 'text', {x:x + 4, y:1607, 'font-size':17, 'text-anchor':'middle', fill:'#333'});
    st.textContent = boxStars[i];
    
    
  });
  const frame = make(g, 'rect', {x:61, y:1588.4, width:1383.6, height:628.6, fill:'none', stroke:'#444', 'stroke-width':1.6});
  
  

  function box(stats, cx, stroke, fill, prefix) {
    const w = seg(g, cx, Y(stats[0]), cx, Y(stats[4]), stroke, 1.5);
    
    
    const c1 = seg(g, cx - CAP, Y(stats[0]), cx + CAP, Y(stats[0]), stroke, 1.5);
    
    
    const c2 = seg(g, cx - CAP, Y(stats[4]), cx + CAP, Y(stats[4]), stroke, 1.5);
    
    
    const r = make(g, 'rect', {x:cx - HALF, y:Y(stats[3]), width:HALF * 2, height:Y(stats[1]) - Y(stats[3]), fill:fill, stroke:stroke, 'stroke-width':1.5, rx:1});
    
    
    const m = seg(g, cx - HALF, Y(stats[2]), cx + HALF, Y(stats[2]), stroke, 1.4);
    
    
  }
  boxGenes.forEach((name, i) => {
    const nx = X(i) + NORMAL, tx = X(i) + TUMOR;
    box(normalStats[i], nx, '#e8604f', '#f0a79c', 'normal');
    box(tumorStats[i], tx, '#38b3cc', '#a9dbe6', 'tumor');
    const prof = tumorDensity[i];
    const right = prof.map(p => [tx + p[1], Y(p[0])]);
    const left = prof.map(p => [tx - p[1], Y(p[0])]).reverse();
    const pts = right.concat(left).map(p => p[0].toFixed(1) + ',' + p[1].toFixed(1)).join(' ');
    const sw = make(g, 'polygon', {points:pts, fill:'url(#swarmDots)', stroke:'#000', 'stroke-width':2.6, 'stroke-linecap':'round', 'stroke-dasharray':'.6 3.4 .6 5.2 .6 2.8'});
    
    
    tumorTails[i].forEach((v, k) => {
      const c = make(g, 'circle', {cx:tx + ((k * 2) % 3 - 1) * .7, cy:Y(v), r:1.5, fill:'#000'});
      
      
    });
    const st = normalStats[i];
    normalDots[i].forEach((v, k) => {
      const jitter = ((k * 37) % 29) / 14 - 1;
      const spread = 26 * (1 - .55 * Math.min(1, Math.abs(v - st[2]) / ((st[4] - st[0]) / 2)));
      const c = make(g, 'circle', {cx:nx + jitter * spread, cy:Y(v), r:1.5, fill:'#000'});
      
      
    });
  });
})();
</script>
</body>
</html>
